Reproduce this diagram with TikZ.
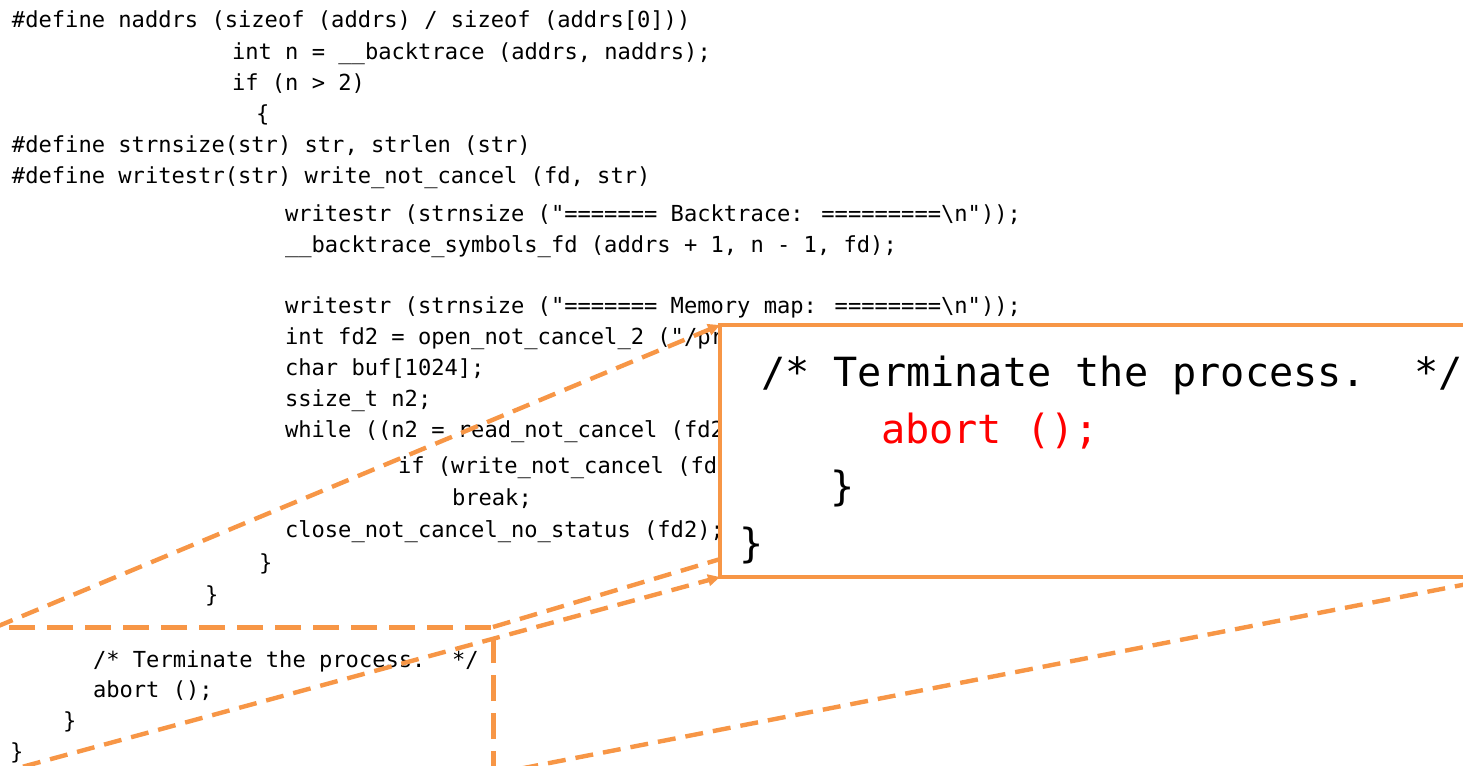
\documentclass[tikz,border=0pt]{standalone}
\usepackage{fontspec}
\newfontfamily\codefont{DejaVu Sans Mono}
\usetikzlibrary{arrows.meta,backgrounds}
\definecolor{zoomorange}{RGB}{247,150,70}
\definecolor{hotred}{RGB}{255,0,0}
\begin{document}
\begin{tikzpicture}[x=0.75pt,y=-0.75pt,
  code/.style={anchor=base west,inner sep=0pt,outer sep=0pt,
    font=\codefont\fontsize{16.57}{20}\selectfont},
  bigcode/.style={anchor=base west,inner sep=0pt,outer sep=0pt,
    font=\codefont\fontsize{30.15}{36}\selectfont},
  srcbox/.style={draw=zoomorange,line width=3.75pt,dash pattern=on 19.5pt off 9pt,
    minimum width=372.75pt,minimum height=110.25pt,inner sep=0pt,outer sep=0pt},
  zoombox/.style={draw=zoomorange,fill=white,line width=3.6pt,
    minimum width=587.25pt,minimum height=189pt,inner sep=0pt,outer sep=0pt},
  link/.style={draw=zoomorange,line width=3.3pt,dash pattern=on 13.5pt off 7.5pt},
  linktip/.style={link,-{Triangle[length=9pt,width=8.5pt]}},
]
\useasboundingbox (0,0) rectangle (1463,765);

% source listing
\node[code] (l1)  at (12,27)  {\#define naddrs (sizeof (addrs) / sizeof (addrs[0]))};
\node[code] (l2)  at (232,59) {int n = \_\_backtrace (addrs, naddrs);};
\node[code] (l3)  at (232,90) {if (n > 2)};
\node[code] (l4)  at (256,121) {\{};
\node[code] (l5)  at (12,152) {\#define strnsize(str) str, strlen (str)};
\node[code] (l6)  at (12,183) {\#define writestr(str) write\_not\_cancel (fd, str)};
\node[code] (l7)  at (285,221) {writestr (strnsize ("======= Backtrace: =========\textbackslash n"));};
\node[code] (l8)  at (285,252) {\_\_backtrace\_symbols\_fd (addrs + 1, n - 1, fd);};
\node[code] (l10) at (285,313) {writestr (strnsize ("======= Memory map: ========\textbackslash n"));};
\node[code] (l11) at (285,344) {int fd2 = open\_not\_cancel\_2 ("/pr};
\node[code] (l12) at (285,375) {char buf[1024];};
\node[code] (l13) at (285,406) {ssize\_t n2;};
\node[code] (l14) at (285,437) {while ((n2 = read\_not\_cancel (fd2};
\node[code] (l15) at (398,473) {if (write\_not\_cancel (fd};
\node[code] (l16) at (452,505) {break;};
\node[code] (l17) at (285,537) {close\_not\_cancel\_no\_status (fd2);};
\node[code] (l18) at (259,570) {\}};
\node[code] (l19) at (205,602) {\}};

% excerpt that gets magnified
\node[code] (s1) at (93,667) {/* Terminate the process.\ \ */};
\node[code] (s2) at (93,697) {abort ();};
\node[code] (s3) at (63,728) {\}};
\node[code] (s4) at (10,759) {\}};

% frames
\node[srcbox]  (src)  at (244.5,700.5) {};
\node[zoombox] (zoom) at (1111.5,451) {};

% projection lines
\begin{scope}[on background layer]
  \draw[link] (src.north east) -- (zoom.north east);
  \draw[link] (src.south east) -- (zoom.south east);
\end{scope}
\draw[linktip] (src.north west) -- (zoom.north west);
\draw[linktip] (src.south west) -- (zoom.south west);

% magnified text
\node[bigcode] (b1) at (761,386) {/* Terminate the process.\ \ */};
\node[bigcode,text=hotred] (b2) at (881,443) {abort ();};
\node[bigcode] (b3) at (830,500) {\}};
\node[bigcode] (b4) at (739,557) {\}};
\end{tikzpicture}
\end{document}
